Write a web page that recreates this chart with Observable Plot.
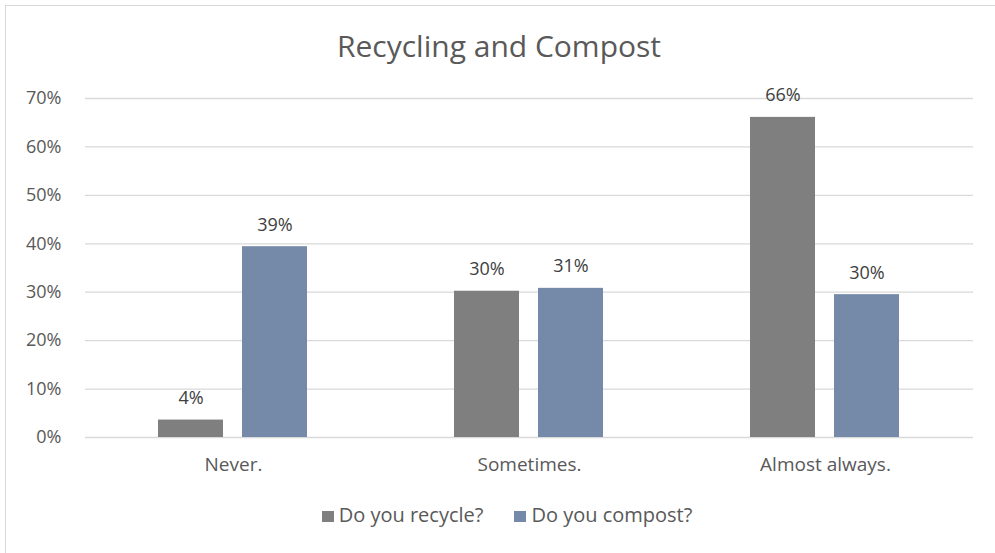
<!DOCTYPE html>
<html>
<head>
<meta charset="utf-8">
<script src="https://cdn.jsdelivr.net/npm/d3@7"></script>
<script src="https://cdn.jsdelivr.net/npm/@observablehq/plot@0.6"></script>
<style>
  html, body { margin: 0; padding: 0; background: #fff; }
  #chart { position: relative; width: 995px; height: 553px; overflow: hidden; font-family: "Open Sans", sans-serif; }
  #frame { position: absolute; left: 5px; top: 5px; width: 1000px; height: 560px; border: 1px solid #d9d9d9; box-sizing: border-box; }
  #title { position: absolute; left: 0; width: 998px; top: 25px; text-align: center; font-size: 30px; color: #595959; white-space: nowrap; }
  #plot { position: absolute; left: 0; top: 0; }
  #legend { position: absolute; top: 501px; left: 0; width: 1014px; display: flex; justify-content: center; gap: 31px; font-size: 20px; color: #595959; white-space: nowrap; }
  #legend .item { display: flex; align-items: center; gap: 5px; }
  #legend .swatch { width: 12px; height: 11px; display: inline-block; position: relative; top: 2px; }
</style>
</head>
<body>
<div id="chart">
  <div id="frame"></div>
  <div id="title">Recycling and Compost</div>
  <div id="plot"></div>
  <div id="legend"></div>
</div>
<script>
// Survey answers, in percent of respondents
const categories = ["Never.", "Sometimes.", "Almost always."];
const series = ["Do you recycle?", "Do you compost?"];
const recycle = [3.6, 30.2, 66.1];
const compost = [39.4, 30.8, 29.5];
const yTicks = [0, 10, 20, 30, 40, 50, 60, 70];
const colors = ["#7f7f7f", "#7589a8"];

const rows = categories.flatMap((c, i) => [
  {category: c, series: series[0], value: recycle[i]},
  {category: c, series: series[1], value: compost[i]}
]);

const chart = Plot.plot({
  width: 995,
  height: 553,
  marginLeft: 84,
  marginRight: 22,
  marginTop: 98,
  marginBottom: 116,
  style: {fontFamily: "Open Sans, sans-serif", fontSize: "18px", color: "#595959", background: "transparent"},
  fx: {domain: categories, padding: 0, label: null, axis: null},
  x: {domain: series, paddingInner: 0.2235, paddingOuter: 0.855, axis: null},
  y: {domain: [0, 70], label: null},
  color: {domain: series, range: colors},
  marks: [
    Plot.gridY(yTicks, {stroke: "#d9d9d9", strokeOpacity: 1, strokeWidth: 1.3}),
    Plot.barY(rows, {fx: "category", x: "series", y: "value", fill: "series"}),
    Plot.text(rows, {
      fx: "category", x: "series", y: "value",
      text: d => Math.round(d.value) + "%",
      lineAnchor: "bottom", dy: -16, fill: "#404040", fontSize: 18
    }),
    Plot.axisY(yTicks, {
      anchor: "left", facetAnchor: "left", tickSize: 0, tickPadding: 24,
      tickFormat: d => d + "%", fontSize: 18, label: null, fill: "#595959"
    }),
    Plot.axisFx({anchor: "bottom", tickSize: 0, tickPadding: 20, fontSize: 19, label: null, fill: "#595959"})
  ]
});
document.getElementById("plot").appendChild(chart);

// Legend below the plot
const legend = document.getElementById("legend");
series.forEach((s, i) => {
  const item = document.createElement("span");
  item.className = "item";
  const sw = document.createElement("span");
  sw.className = "swatch";
  sw.style.background = colors[i];
  item.appendChild(sw);
  item.appendChild(document.createTextNode(s));
  legend.appendChild(item);
});
</script>
</body>
</html>
